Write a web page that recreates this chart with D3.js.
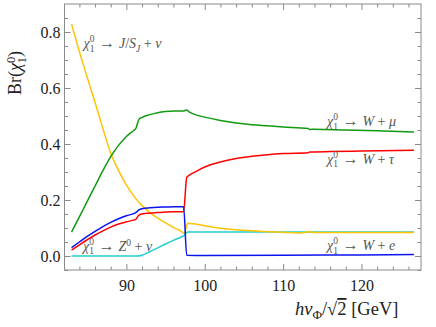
<!DOCTYPE html>
<html>
<head>
<meta charset="utf-8">
<script src="https://cdn.jsdelivr.net/npm/d3@7"></script>
<style>
  body { margin: 0; background: #fff; }
  svg { display: block; }
</style>
</head>
<body>
<svg width="436" height="327"></svg>
<script>
// branching ratios, [hv/sqrt2 (GeV), Br]
const jsNu = [[83,0.828],[84,0.73],[85,0.638],[86,0.548],[87,0.455],[88,0.367],[89,0.305],[90,0.254],
  [91,0.212],[91.2,0.205],[92,0.18],[93,0.155],[94,0.135],[95,0.118],[96,0.102],[97,0.088],[97.4,0.08],
  [97.8,0.117],[100,0.108],[102,0.099],[105,0.092],[108,0.087],[110,0.085],[112.3,0.082],[113.4,0.087],
  [113.8,0.084],[120,0.084],[126.7,0.084]];
const wMu = [[83,0.085],[84,0.14],[85,0.195],[86,0.25],[87,0.305],[88,0.355],[89,0.395],[90,0.427],
  [91,0.45],[91.2,0.455],[91.6,0.488],[92,0.495],[93,0.505],[94,0.512],[95,0.516],[96,0.518],
  [97.3,0.518],[97.7,0.521],[98,0.515],[99,0.503],[100,0.496],[102,0.484],[104,0.475],[106,0.469],
  [108,0.465],[110,0.461],[113.2,0.455],[113.4,0.452],[114,0.453],[118,0.45],[122,0.447],[126.7,0.443]];
const wTau = [[83,0.021],[84,0.04],[85,0.058],[86,0.075],[87,0.09],[88,0.103],[89,0.114],[90,0.122],
  [91,0.129],[91.2,0.131],[91.6,0.146],[92,0.15],[93,0.153],[94,0.155],[95,0.157],[96,0.158],
  [97.3,0.158],[97.7,0.281],[98,0.288],[99,0.303],[100,0.318],[102,0.336],[104,0.348],[106,0.356],
  [108,0.362],[110,0.366],[113.2,0.369],[113.4,0.371],[116,0.373],[120,0.375],[126.7,0.378]];
const wE = [[83,0.03],[84,0.05],[85,0.07],[86,0.088],[87,0.105],[88,0.12],[89,0.133],[90,0.144],
  [91,0.152],[91.2,0.155],[91.6,0.165],[92,0.169],[93,0.172],[94,0.174],[95,0.175],[96,0.176],
  [97.3,0.176],[97.7,0.003],[100,0.002],[110,0.003],[120,0.004],[126.7,0.005]];
const zNu = [[83,0],[91.4,0],[92,0.003],[93,0.015],[94,0.029],[95,0.043],[96,0.056],[97,0.068],
  [97.4,0.074],[97.8,0.086],[100,0.086],[110,0.086],[126.7,0.086]];

const xTicks = [90, 100, 110, 120];
const yTicks = [0, 0.2, 0.4, 0.6, 0.8];

const series = [
  { data: zNu, color: "#1fcfcf" },
  { data: jsNu, color: "#ffc300" },
  { data: wMu, color: "#119911" },
  { data: wTau, color: "#ff0000" },
  { data: wE, color: "#0a14f0" }
];

const svg = d3.select("svg");
const mLeft = 64.5, mRight = 421, mTop = 4, mBottom = 270;

const x = d3.scaleLinear().domain([82.1, 127.6]).range([mLeft, mRight]);
const y = d3.scaleLinear().domain([-0.05, 0.9]).range([mBottom, mTop]);

const frameColor = "#8a8a8a";
const serif = "'Liberation Serif', 'DejaVu Serif', serif";

// curves
const line = d3.line()
  .x(d => x(d[0]))
  .y(d => y(d[1]))
  .curve(d3.curveMonotoneX);

svg.append("g")
  .selectAll("path")
  .data(series)
  .enter()
  .append("path")
  .attr("d", d => line(d.data))
  .attr("fill", "none")
  .attr("stroke", d => d.color)
  .attr("stroke-width", 1.5)
  .attr("stroke-linejoin", "round");

// frame with inward ticks on all four sides
const xMinor = d3.range(84, 127, 2).filter(v => !xTicks.includes(v));
const yMinor = d3.range(-0.05, 0.9, 0.05).map(v => +v.toFixed(2)).filter(v => !yTicks.includes(v));

const axisStyle = (g) => {
  g.select(".domain").remove();
  g.selectAll("line").attr("stroke", frameColor).attr("stroke-width", 1);
  g.selectAll("text").style("font-family", serif).style("font-size", "16px").attr("fill", "#222");
};

svg.append("g").attr("transform", `translate(0,${mBottom})`)
  .call(d3.axisBottom(x).tickValues(xTicks).tickSize(-6).tickPadding(10).tickFormat(d3.format("d")))
  .call(axisStyle);
svg.append("g").attr("transform", `translate(0,${mBottom})`)
  .call(d3.axisBottom(x).tickValues(xMinor).tickSize(-3.5).tickFormat(""))
  .call(axisStyle);
svg.append("g").attr("transform", `translate(0,${mTop})`)
  .call(d3.axisTop(x).tickValues(xTicks).tickSize(-6).tickFormat(""))
  .call(axisStyle);
svg.append("g").attr("transform", `translate(0,${mTop})`)
  .call(d3.axisTop(x).tickValues(xMinor).tickSize(-3.5).tickFormat(""))
  .call(axisStyle);

svg.append("g").attr("transform", `translate(${mLeft},0)`)
  .call(d3.axisLeft(y).tickValues(yTicks).tickSize(-6).tickPadding(4).tickFormat(d3.format(".1f")))
  .call(axisStyle);
svg.append("g").attr("transform", `translate(${mLeft},0)`)
  .call(d3.axisLeft(y).tickValues(yMinor).tickSize(-3.5).tickFormat(""))
  .call(axisStyle);
svg.append("g").attr("transform", `translate(${mRight},0)`)
  .call(d3.axisRight(y).tickValues(yTicks).tickSize(-6).tickFormat(""))
  .call(axisStyle);
svg.append("g").attr("transform", `translate(${mRight},0)`)
  .call(d3.axisRight(y).tickValues(yMinor).tickSize(-3.5).tickFormat(""))
  .call(axisStyle);

svg.append("rect")
  .attr("x", mLeft).attr("y", mTop)
  .attr("width", mRight - mLeft).attr("height", mBottom - mTop)
  .attr("fill", "none").attr("stroke", frameColor).attr("stroke-width", 1);

// chi_1^0 with stacked indices, then the rest of the label
function chiLabel(px, py, rest, size, color) {
  const t = svg.append("text")
    .attr("x", px).attr("y", py)
    .style("font-family", serif)
    .style("font-size", size + "px")
    .attr("fill", color);
  t.append("tspan").style("font-style", "italic").text("\u03c7");
  t.append("tspan").attr("dy", -size * 0.4).style("font-size", (size * 0.68) + "px").text("0");
  t.append("tspan").attr("dx", -size * 0.34).attr("dy", size * 0.68).style("font-size", (size * 0.68) + "px").text("1");
  const r = t.append("tspan").attr("dy", -size * 0.28);
  rest.forEach(p => {
    const s = r.append("tspan").text(p.t);
    if (p.i) s.style("font-style", "italic");
    if (p.arrow) s.attr("dx", size * 0.3).style("font-size", (size * 1.15) + "px");
    if (p.gap) s.attr("dx", size * 0.3);
    if (p.sub) s.attr("dy", size * 0.25).style("font-size", (size * 0.68) + "px");
    if (p.up) s.attr("dy", -size * 0.25);
    if (p.sup) s.attr("dy", -size * 0.35).style("font-size", (size * 0.68) + "px");
    if (p.down) s.attr("dy", size * 0.35);
  });
  return t;
}

const labColor = "#555";
const ls = 14;
chiLabel(83.5, 48, [{t: "\u2192", arrow: true}, {t: "J", i: true, gap: true}, {t: "/"}, {t: "S", i: true}, {t: "J", i: true, sub: true},
  {t: " + ", up: true}, {t: "\u03bd", i: true}], ls, labColor);
chiLabel(83, 250.5, [{t: "\u2192", arrow: true}, {t: "Z", i: true, gap: true}, {t: "0", sup: true}, {t: " + ", down: true}, {t: "\u03bd", i: true}], ls, labColor);
chiLabel(327, 126, [{t: "\u2192", arrow: true}, {t: "W", i: true, gap: true}, {t: " + "}, {t: "\u03bc", i: true}], ls, labColor);
chiLabel(327, 163.5, [{t: "\u2192", arrow: true}, {t: "W", i: true, gap: true}, {t: " + "}, {t: "\u03c4", i: true}], ls, labColor);
chiLabel(327, 250, [{t: "\u2192", arrow: true}, {t: "W", i: true, gap: true}, {t: " + "}, {t: "e", i: true}], ls, labColor);

// axis titles
const xl = svg.append("text")
  .attr("x", 295).attr("y", 315)
  .style("font-family", serif).style("font-size", "18.5px").attr("fill", "#222");
xl.append("tspan").style("font-style", "italic").text("hv");
xl.append("tspan").attr("dy", 3.5).style("font-size", "13px").text("\u03a6");
xl.append("tspan").attr("dy", -3.5).text("/\u221a");
xl.append("tspan").style("text-decoration", "overline").text("2");
xl.append("tspan").text(" [GeV]");

const yl = svg.append("text")
  .attr("transform", "translate(21,73) rotate(-90)")
  .attr("text-anchor", "middle")
  .style("font-family", serif).style("font-size", "18px").attr("fill", "#222");
yl.append("tspan").text("Br(");
yl.append("tspan").style("font-style", "italic").text("\u03c7");
yl.append("tspan").attr("dy", -6.5).style("font-size", "12.5px").text("0");
yl.append("tspan").attr("dx", -6.5).attr("dy", 11).style("font-size", "12.5px").text("1");
yl.append("tspan").attr("dy", -4.5).text(")");
</script>
</body>
</html>
